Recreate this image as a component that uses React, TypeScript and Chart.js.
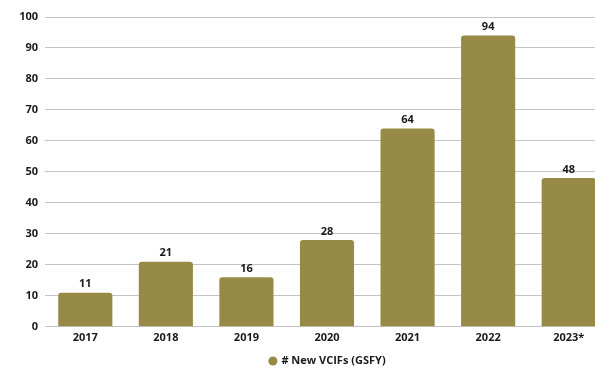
import React, { useEffect, useRef } from "react";
import { Chart, registerables } from "chart.js";

Chart.register(...registerables);

const categories = ["2017", "2018", "2019", "2020", "2021", "2022", "2023*"];
const values = [11, 21, 16, 28, 64, 94, 48];
const seriesLabel = "# New VCIFs (GSFY)";
const yTicks = [0, 10, 20, 30, 40, 50, 60, 70, 80, 90, 100];

const FONT = "'Open Sans', 'DejaVu Sans', sans-serif";
const BAR = "#978a46";

const valueLabels = {
  id: "valueLabels",
  afterDatasetsDraw(chart: any) {
    const ctx = chart.ctx;
    const meta = chart.getDatasetMeta(0);
    ctx.save();
    ctx.font = `700 11px ${FONT}`;
    ctx.fillStyle = "#1a1a1a";
    ctx.textAlign = "center";
    ctx.textBaseline = "bottom";
    meta.data.forEach((el: any, i: number) => {
      ctx.fillText(String(values[i]), el.x, el.y - 3);
    });
    ctx.restore();
  },
};

const centeredLegend = {
  id: "centeredLegend",
  afterDraw(chart: any) {
    const ctx = chart.ctx;
    const area = chart.chartArea;
    ctx.save();
    ctx.font = `700 11px ${FONT}`;
    const tw = ctx.measureText(seriesLabel).width;
    const r = 4.5;
    const gap = 4;
    const total = r * 2 + gap + tw;
    const cx = (area.left + area.right) / 2;
    const y = chart.height - 8;
    const x0 = cx - total / 2;
    ctx.fillStyle = BAR;
    ctx.beginPath();
    ctx.arc(x0 + r, y, r, 0, Math.PI * 2);
    ctx.fill();
    ctx.fillStyle = "#1a1a1a";
    ctx.textAlign = "left";
    ctx.textBaseline = "middle";
    ctx.fillText(seriesLabel, x0 + r * 2 + gap, y);
    ctx.restore();
  },
};

export default function App() {
  const ref = useRef<HTMLCanvasElement | null>(null);
  useEffect(() => {
    if (!ref.current) return;
    const chart = new Chart(ref.current, {
      type: "bar",
      data: {
        labels: categories,
        datasets: [
          {
            label: seriesLabel,
            data: values,
            backgroundColor: BAR,
            borderRadius: 3,
            borderSkipped: "bottom",
            barPercentage: 0.84,
            categoryPercentage: 0.8,
          },
        ],
      },
      options: {
        animation: false,
        responsive: false,
        maintainAspectRatio: false,
        layout: { padding: { top: 17, right: 41, bottom: 21, left: 0 } },
        plugins: {
          legend: { display: false },
          tooltip: { enabled: false },
        },
        scales: {
          x: {
            grid: { display: false, drawTicks: false },
            border: { display: false },
            ticks: {
              color: "#1a1a1a",
              padding: 4,
              font: { family: FONT, size: 11, weight: "bold" },
            },
          },
          y: {
            min: 0,
            max: 100,
            afterFit(scale: any) {
              scale.width = 45;
            },
            afterBuildTicks(scale: any) {
              scale.ticks = yTicks.map((v) => ({ value: v }));
            },
            grid: { color: "#c4c4c4", lineWidth: 1, drawTicks: false },
            border: { display: false },
            ticks: {
              color: "#1a1a1a",
              padding: 7,
              font: { family: FONT, size: 11, weight: "bold" },
            },
          },
        },
      },
      plugins: [valueLabels, centeredLegend],
    });
    return () => chart.destroy();
  }, []);
  return (
    <div
      style={{
        position: "fixed",
        left: 0,
        top: 0,
        width: 595,
        height: 369,
        overflow: "hidden",
        background: "#fff",
      }}
    >
      <canvas ref={ref} width={650} height={369} style={{ display: "block" }} />
    </div>
  );
}
